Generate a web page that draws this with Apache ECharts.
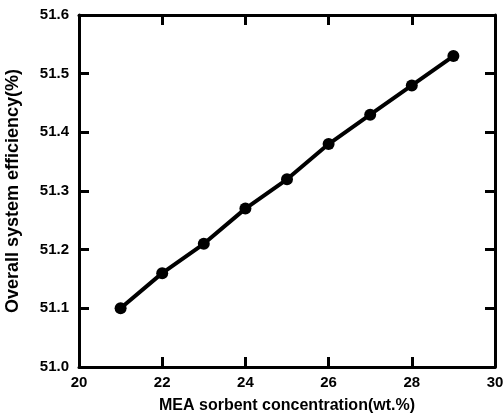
<!DOCTYPE html>
<html>
<head>
<meta charset="UTF-8">
<script src="https://cdn.jsdelivr.net/npm/echarts@6/dist/echarts.min.js"></script>
<style>
  body { margin: 0; background: #fff; }
  #chart { width: 504px; height: 416px; }
</style>
</head>
<body>
<div id="chart"></div>
<script>
  const concentration = [21, 22, 23, 24, 25, 26, 27, 28, 29];
  const efficiency = [51.10, 51.16, 51.21, 51.27, 51.32, 51.38, 51.43, 51.48, 51.53];

  const font = { color: '#000', fontWeight: 'bold', fontFamily: 'Liberation Sans, Arial' };
  const lbl = Object.assign({ fontSize: 15 }, font);
  const line = { show: true, onZero: false, lineStyle: { color: '#000', width: 3 } };
  const tick = { show: true, inside: true, length: 10, lineStyle: { color: '#000', width: 3 } };

  const chart = echarts.init(document.getElementById('chart'));
  chart.setOption({
    animation: false,
    grid: { left: 79, right: 9, top: 15, bottom: 49, outerBoundsMode: 'none' },
    xAxis: [{
      type: 'value', min: 20, max: 30, interval: 2,
      name: 'MEA sorbent concentration(wt.%)', nameLocation: 'middle', nameGap: 31,
      nameTextStyle: Object.assign({ fontSize: 16 }, font),
      axisLine: line, axisTick: tick, splitLine: { show: false },
      axisLabel: Object.assign({ margin: 8 }, lbl)
    }, {
      type: 'value', position: 'top', min: 20, max: 30, interval: 2,
      axisLine: line, axisTick: tick, splitLine: { show: false },
      axisLabel: { show: false }
    }],
    yAxis: [{
      type: 'value', min: 51.0, max: 51.6, interval: 0.1,
      name: 'Overall system efficiency(%)', nameLocation: 'middle', nameGap: 57,
      nameTextStyle: Object.assign({ fontSize: 18 }, font),
      axisLine: line, axisTick: tick, splitLine: { show: false },
      axisLabel: Object.assign({ margin: 10, formatter: v => v.toFixed(1) }, lbl)
    }, {
      type: 'value', position: 'right', min: 51.0, max: 51.6, interval: 0.1,
      axisLine: line, axisTick: tick, splitLine: { show: false },
      axisLabel: { show: false }
    }],
    series: [{
      type: 'line',
      data: concentration.map((x, i) => [x, efficiency[i]]),
      symbol: 'circle', symbolSize: 12,
      lineStyle: { color: '#000', width: 4 },
      itemStyle: { color: '#000' }
    }]
  });
</script>
</body>
</html>
